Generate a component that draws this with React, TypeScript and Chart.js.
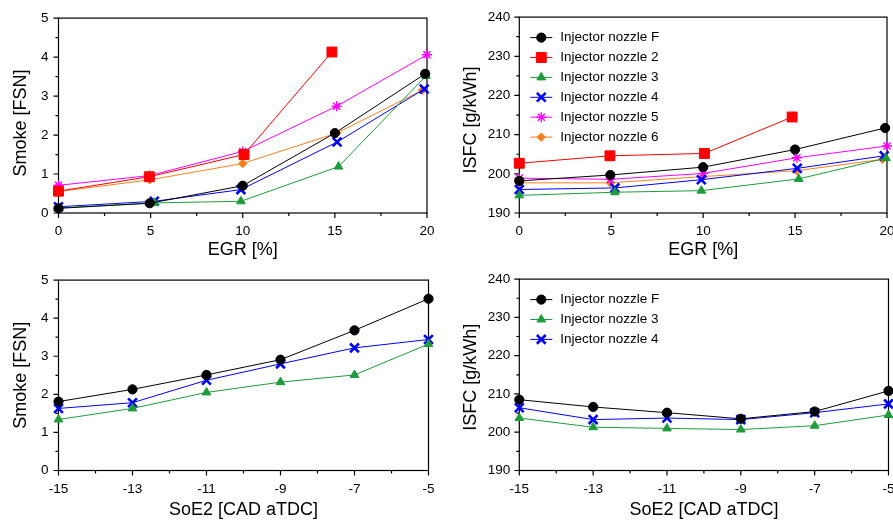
import React, { useEffect, useRef } from 'react';
import { Chart, registerables } from 'chart.js';
import { drawPoint } from 'chart.js/helpers';

Chart.register(...registerables);

const FONT = "'Liberation Sans', Arial, Helvetica, sans-serif";

// ---- EGR sweep: x positions (EGR %) per nozzle ----
const egrF = [0, 4.95, 10, 15, 19.9];
const egr2 = [0, 4.93, 10.07, 14.84];
const egr3 = [0, 5.2, 9.9, 15.2, 19.95];
const egr4 = [0, 5.2, 9.9, 15.12, 19.85];
const egr5 = [0, 4.95, 10, 15.1, 20];
const egr6 = [0, 4.95, 10, 15.1, 19.75];

// Smoke [FSN] vs EGR
const smokeEgrF = [0.12, 0.25, 0.7, 2.05, 3.57];
const smokeEgr2 = [0.56, 0.93, 1.5, 4.13];
const smokeEgr3 = [0.13, 0.26, 0.3, 1.19, 3.52];
const smokeEgr4 = [0.16, 0.3, 0.6, 1.82, 3.18];
const smokeEgr5 = [0.71, 0.96, 1.58, 2.74, 4.06];
const smokeEgr6 = [0.55, 0.85, 1.27, 2.05, 3.15];

// ISFC [g/kWh] vs EGR
const isfcEgrF = [198.2, 199.7, 201.7, 206.2, 211.7];
const isfcEgr2 = [202.7, 204.6, 205.2, 214.5];
const isfcEgr3 = [194.5, 195.3, 195.7, 198.7, 204.0];
const isfcEgr4 = [196.0, 196.4, 198.5, 201.4, 204.6];
const isfcEgr5 = [198.9, 198.6, 200.1, 204.1, 207.1];
const isfcEgr6 = [197.7, 197.7, 199.3, 200.8, 203.7];

// ---- SoE2 sweep ----
const soe = [-15, -13, -11, -9, -7, -5];
const smokeSoeF = [1.81, 2.13, 2.51, 2.91, 3.68, 4.51];
const smokeSoe3 = [1.34, 1.63, 2.05, 2.32, 2.51, 3.32];
const smokeSoe4 = [1.63, 1.78, 2.37, 2.8, 3.22, 3.44];
const isfcSoeF = [208.5, 206.6, 205.1, 203.5, 205.4, 210.8];
const isfcSoe3 = [203.7, 201.3, 201.0, 200.7, 201.7, 204.5];
const isfcSoe4 = [206.4, 203.3, 203.7, 203.3, 205.1, 207.4];

const labels = ['Injector nozzle F', 'Injector nozzle 2', 'Injector nozzle 3', 'Injector nozzle 4', 'Injector nozzle 5', 'Injector nozzle 6'];

// styles
const ST = {
  F: { color: '#000000', ps: 'circle', r: 4.6, bw: 1 },
  N2: { color: '#FF0000', ps: 'rect', r: 7, bw: 1 },
  N3: { color: '#1E9B3C', ps: 'triangle', r: 5, bw: 1 },
  N4: { color: '#0000FF', ps: 'crossRot', r: 6.2, bw: 2.6 },
  N5: { color: '#FF00FF', ps: 'star', r: 5, bw: 1.4 },
  N6: { color: '#FF7F1E', ps: 'rectRot', r: 4.2, bw: 1 },
};

function mk(label: string, xs: number[], ys: number[], st: any) {
  return {
    label,
    data: xs.map((x, i) => ({ x, y: ys[i] })),
    borderColor: st.color,
    backgroundColor: st.color,
    pointBackgroundColor: st.color,
    pointBorderColor: st.color,
    pointStyle: st.ps,
    pointRadius: st.r,
    pointHoverRadius: st.r,
    pointBorderWidth: st.bw,
    borderWidth: 1,
    tension: 0,
    fill: false,
    clip: false,
  };
}

const framePlugin = {
  id: 'frameTicks',
  beforeDatasetsDraw(chart: any) {
    const { ctx, chartArea: a, scales } = chart;
    ctx.save();
    ctx.strokeStyle = '#000';
    ctx.lineWidth = 1.2;
    ctx.strokeRect(a.left, a.top, a.right - a.left, a.bottom - a.top);
    ctx.beginPath();
    const xs = scales.x;
    const ys = scales.y;
    const xt = xs.ticks.map((t: any) => t.value);
    const yt = ys.ticks.map((t: any) => t.value);
    xt.forEach((v: number, i: number) => {
      const p = xs.getPixelForValue(v);
      ctx.moveTo(p, a.bottom);
      ctx.lineTo(p, a.bottom + 5);
      if (i < xt.length - 1) {
        const m = xs.getPixelForValue((v + xt[i + 1]) / 2);
        ctx.moveTo(m, a.bottom);
        ctx.lineTo(m, a.bottom + 3);
      }
    });
    yt.forEach((v: number, i: number) => {
      const p = ys.getPixelForValue(v);
      ctx.moveTo(a.left, p);
      ctx.lineTo(a.left - 5, p);
      if (i < yt.length - 1) {
        const m = ys.getPixelForValue((v + yt[i + 1]) / 2);
        ctx.moveTo(a.left, m);
        ctx.lineTo(a.left - 3, m);
      }
    });
    ctx.stroke();
    ctx.restore();
  },
};

const legendPlugin = {
  id: 'inLegend',
  afterDatasetsDraw(chart: any, _args: any, opts: any) {
    if (!opts || !opts.display) return;
    const { ctx, chartArea: a } = chart;
    ctx.save();
    chart.data.datasets.forEach((ds: any, i: number) => {
      const y = a.top + opts.dy + i * opts.gap;
      const x0 = a.left + opts.dx;
      ctx.strokeStyle = ds.borderColor;
      ctx.lineWidth = ds.borderWidth;
      ctx.beginPath();
      ctx.moveTo(x0, y);
      ctx.lineTo(x0 + 22, y);
      ctx.stroke();
      ctx.fillStyle = ds.pointBackgroundColor;
      ctx.strokeStyle = ds.pointBorderColor;
      ctx.lineWidth = ds.pointBorderWidth;
      drawPoint(ctx, { pointStyle: ds.pointStyle, radius: ds.pointRadius, borderWidth: ds.pointBorderWidth, rotation: 0 } as any, x0 + 11, y);
      ctx.fillStyle = '#000';
      ctx.font = `13.5px ${FONT}`;
      ctx.textAlign = 'left';
      ctx.textBaseline = 'middle';
      ctx.fillText(ds.label, x0 + 30, y);
    });
    ctx.restore();
  },
};

type Panel = {
  left: number; top: number; w: number; h: number;
  area: { l: number; t: number; r: number; b: number };
  datasets: any[];
  x: { min: number; max: number; step: number; title: string; titlePad: number };
  y: { min: number; max: number; step: number; title: string; titlePad: number; tickPad: number };
  legend: boolean;
};

function ChartPanel({ p }: { p: Panel }) {
  const ref = useRef<HTMLCanvasElement | null>(null);
  useEffect(() => {
    if (!ref.current) return;
    const tickFont = { family: FONT, size: 13.5 };
    const titleFont = { family: FONT, size: 18 };
    const chart = new Chart(ref.current, {
      type: 'line',
      data: { datasets: p.datasets },
      plugins: [framePlugin, legendPlugin],
      options: {
        responsive: false,
        animation: false,
        devicePixelRatio: 1,
        layout: { padding: { left: 0, bottom: 0, top: p.area.t, right: p.w - p.area.r } },
        plugins: {
          legend: { display: false },
          tooltip: { enabled: false },
          inLegend: { display: p.legend, dx: 11, dy: 20.5, gap: 19.9 },
        } as any,
        scales: {
          x: {
            type: 'linear',
            min: p.x.min,
            max: p.x.max,
            grid: { display: false, drawTicks: false },
            border: { display: false },
            ticks: { stepSize: p.x.step, font: tickFont, color: '#000', padding: 10.5, maxRotation: 0 },
            title: { display: true, text: p.x.title, font: titleFont, color: '#000', padding: { top: 0, bottom: p.x.titlePad } },
            afterFit: (s: any) => { s.height = p.h - p.area.b; },
          },
          y: {
            type: 'linear',
            min: p.y.min,
            max: p.y.max,
            grid: { display: false, drawTicks: false },
            border: { display: false },
            ticks: { stepSize: p.y.step, font: tickFont, color: '#000', padding: p.y.tickPad },
            title: { display: true, text: p.y.title, font: titleFont, color: '#000', padding: { top: p.y.titlePad, bottom: 0 } },
            afterFit: (s: any) => { s.width = p.area.l; },
          },
        } as any,
      },
    } as any);
    return () => chart.destroy();
  }, []);
  return (
    <canvas
      ref={ref}
      width={p.w}
      height={p.h}
      style={{ position: 'absolute', left: p.left, top: p.top, width: p.w, height: p.h }}
    />
  );
}

const egrDatasetsSmoke = [
  mk(labels[0], egrF, smokeEgrF, ST.F),
  mk(labels[1], egr2, smokeEgr2, ST.N2),
  mk(labels[2], egr3, smokeEgr3, ST.N3),
  mk(labels[3], egr4, smokeEgr4, ST.N4),
  mk(labels[4], egr5, smokeEgr5, ST.N5),
  mk(labels[5], egr6, smokeEgr6, ST.N6),
];
const egrDatasetsIsfc = [
  mk(labels[0], egrF, isfcEgrF, ST.F),
  mk(labels[1], egr2, isfcEgr2, ST.N2),
  mk(labels[2], egr3, isfcEgr3, ST.N3),
  mk(labels[3], egr4, isfcEgr4, ST.N4),
  mk(labels[4], egr5, isfcEgr5, ST.N5),
  mk(labels[5], egr6, isfcEgr6, ST.N6),
];
const soeDatasetsSmoke = [
  mk(labels[0], soe, smokeSoeF, ST.F),
  mk(labels[2], soe, smokeSoe3, ST.N3),
  mk(labels[3], soe, smokeSoe4, ST.N4),
];
const soeDatasetsIsfc = [
  mk(labels[0], soe, isfcSoeF, ST.F),
  mk(labels[2], soe, isfcSoe3, ST.N3),
  mk(labels[3], soe, isfcSoe4, ST.N4),
];

const panels: Panel[] = [
  {
    left: 0, top: 0, w: 445, h: 262,
    area: { l: 58.5, t: 13.5, r: 429.5, b: 213 },
    datasets: egrDatasetsSmoke,
    x: { min: 0, max: 20, step: 5, title: 'EGR [%]', titlePad: 1.5 },
    y: { min: 0, max: 5, step: 1, title: 'Smoke [FSN]   ', titlePad: 10.5, tickPad: 10 },
    legend: false,
  },
  {
    left: 445, top: 0, w: 460, h: 262,
    area: { l: 74.3, t: 13.5, r: 445.3, b: 213 },
    datasets: egrDatasetsIsfc,
    x: { min: 0, max: 20, step: 5, title: 'EGR [%]', titlePad: 1.5 },
    y: { min: 190, max: 240, step: 10, title: 'ISFC [g/kWh]  ', titlePad: 15, tickPad: 9 },
    legend: true,
  },
  {
    left: 0, top: 262, w: 445, h: 260,
    area: { l: 58.5, t: 8.5, r: 431.5, b: 208.5 },
    datasets: soeDatasetsSmoke,
    x: { min: -15, max: -5, step: 2, title: 'SoE2 [CAD aTDC]', titlePad: 1 },
    y: { min: 0, max: 5, step: 1, title: 'Smoke [FSN]', titlePad: 10.5, tickPad: 10 },
    legend: false,
  },
  {
    left: 445, top: 262, w: 460, h: 260,
    area: { l: 74.3, t: 8.5, r: 446.7, b: 208.5 },
    datasets: soeDatasetsIsfc,
    x: { min: -15, max: -5, step: 2, title: 'SoE2 [CAD aTDC]', titlePad: 1 },
    y: { min: 190, max: 240, step: 10, title: 'ISFC [g/kWh] ', titlePad: 15, tickPad: 9 },
    legend: true,
  },
];

export default function App() {
  return (
    <div
      style={{
        position: 'fixed', left: 0, top: 0, width: 893, height: 522,
        overflow: 'hidden', background: '#fff',
      }}
    >
      {panels.map((p, i) => (
        <ChartPanel key={i} p={p} />
      ))}
    </div>
  );
}
